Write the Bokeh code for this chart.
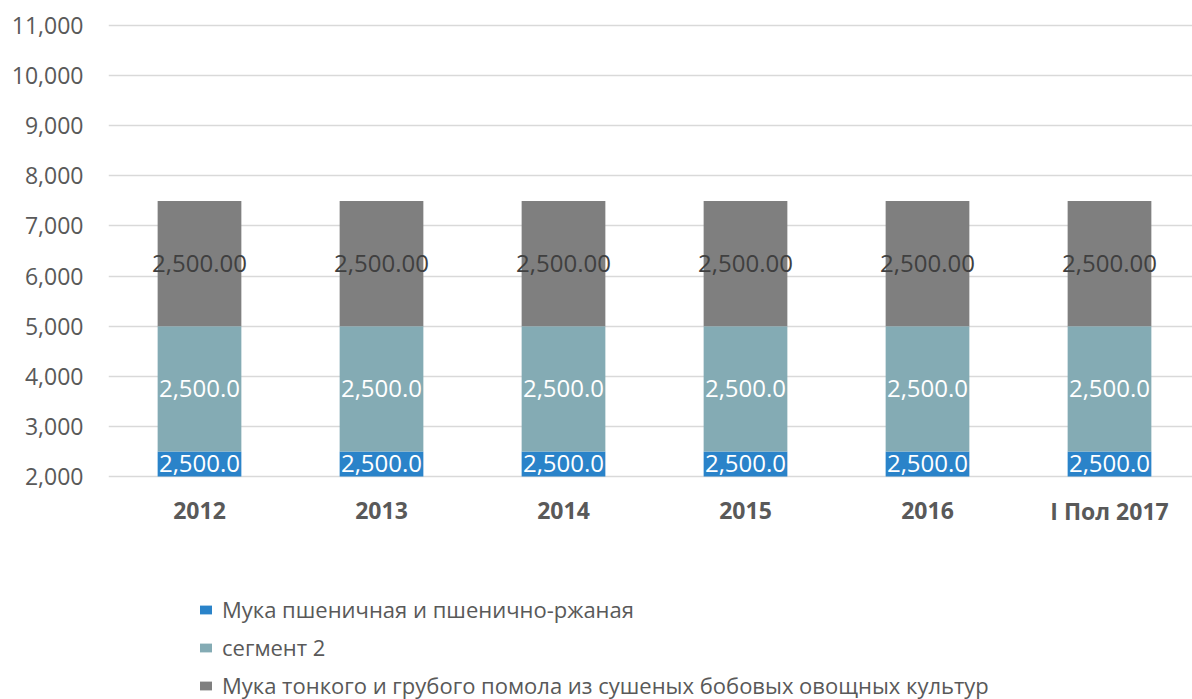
from bokeh.plotting import figure
from bokeh.models import (ColumnDataSource, Range1d, FixedTicker, NumeralTickFormatter,
                          Legend, LegendItem)
from bokeh.core.properties import value
from bokeh.embed import file_html
from bokeh.resources import INLINE

categories = ["2012", "2013", "2014", "2015", "2016", "I Пол 2017"]
series_names = ["Мука пшеничная и пшенично-ржаная",
                "сегмент 2",
                "Мука тонкого и грубого помола из сушеных бобовых овощных культур"]
s1 = [2500, 2500, 2500, 2500, 2500, 2500]
s2 = [2500, 2500, 2500, 2500, 2500, 2500]
s3 = [2500, 2500, 2500, 2500, 2500, 2500]
label_formats = ["{:,.1f}", "{:,.1f}", "{:,.2f}"]
y_ticks = [2000, 3000, 4000, 5000, 6000, 7000, 8000, 9000, 10000, 11000]

colors = ["#2A83C9", "#84ABB4", "#7F7F7F"]
label_colors = ["#FFFFFF", "#FFFFFF", "#404040"]
FONT = "Open Sans"
YMIN, YMAX = 2000, 11000   # visible value axis (Excel axis min/max)

W, H = 1192, 699
TOP, LEFT = 25, 108
PAD = 3                     # px of headroom so the top gridline is drawn
PX_PER_UNIT = 451 / (YMAX - YMIN)
frame_h = H - TOP + PAD
y_end = YMAX + PAD / PX_PER_UNIT
y_start = y_end - frame_h / PX_PER_UNIT

xs = list(range(len(categories)))

p = figure(width=W, height=H, output_backend="svg", toolbar_location=None,
           x_range=Range1d(-0.5, -0.5 + (W - LEFT) / 182.0),
           y_range=Range1d(y_start, y_end),
           x_axis_location=None,
           min_border_left=LEFT, min_border_right=0, min_border_top=TOP - PAD,
           min_border_bottom=0)
p.outline_line_color = None
p.background_fill_color = "white"

# stacked bars (drawn from the axis minimum, as in the source chart)
renderers = []
bottoms = [0] * len(xs)
for k, vals in enumerate([s1, s2, s3]):
    tops = [b + v for b, v in zip(bottoms, vals)]
    vis_b = [max(b, YMIN) for b in bottoms]
    src = ColumnDataSource(dict(x=xs, bottom=vis_b, top=tops))
    r = p.vbar(x="x", bottom="bottom", top="top", width=0.46, source=src,
               fill_color=colors[k], line_color=None)
    renderers.append(r)
    ly = [(vb + t) / 2 for vb, t in zip(vis_b, tops)]
    txt = [label_formats[k].format(v) for v in vals]
    p.text(x=xs, y=ly, text=txt, text_align="center", text_baseline="middle",
           text_font=value(FONT), text_font_size="24px", text_color=label_colors[k])
    bottoms = tops

# category labels under the axis minimum
p.text(x=xs, y=[YMIN] * len(xs), text=categories, y_offset=34,
       text_align="center", text_baseline="middle",
       text_font=value(FONT), text_font_size="23px", text_font_style="bold",
       text_color="#595959")

# value axis
p.yaxis.ticker = FixedTicker(ticks=y_ticks)
p.yaxis.formatter = NumeralTickFormatter(format="0,0")
p.yaxis.axis_line_color = None
p.yaxis.major_tick_line_color = None
p.yaxis.minor_tick_line_color = None
p.yaxis.major_label_text_font = FONT
p.yaxis.major_label_text_font_size = "23px"
p.yaxis.major_label_text_color = "#595959"
p.yaxis.major_label_standoff = 19

p.xgrid.grid_line_color = None
p.ygrid.grid_line_color = "#D9D9D9"
p.ygrid.grid_line_width = 1.5

legend = Legend(items=[LegendItem(label=n, renderers=[r]) for n, r in zip(series_names, renderers)],
                location=(90, -1), orientation="vertical",
                glyph_width=15, glyph_height=11, label_standoff=9,
                label_height=26, spacing=8, padding=0, margin=0,
                border_line_color=None, background_fill_alpha=0,
                label_text_font=FONT, label_text_font_size="22px",
                label_text_color="#595959")
p.add_layout(legend, "center")

open("out.html", "w").write(file_html(p, INLINE))
